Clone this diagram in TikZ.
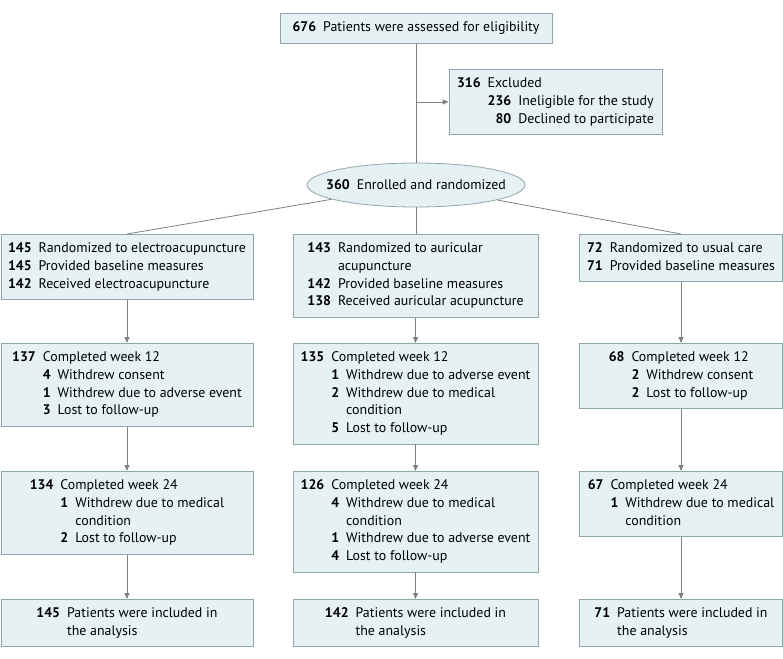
\documentclass[tikz,border=0pt]{standalone}
\usepackage{fontspec}
\setmainfont{PT Sans}
\usetikzlibrary{shapes.geometric,arrows.meta}
\definecolor{relleno}{RGB}{229,241,242}
\definecolor{borde}{RGB}{143,167,171}
\definecolor{gris}{RGB}{128,128,128}
\tikzset{
  caja/.style={draw=borde, fill=relleno, line width=0.8pt, anchor=north,
    inner xsep=0pt, inner ysep=6pt, font=\fontsize{13.9}{17.7}\selectfont},
  une/.style={draw=gris, line width=0.8pt},
  flecha/.style={une, -{Triangle[length=6pt,width=5pt]}}
}
\begin{document}
\begin{tikzpicture}[x=1pt,y=-1pt]
    \useasboundingbox (0,0) rectangle (783,658);
    % cribado
    \node[caja, minimum width=272pt] (eleg) at (416,13) {\begin{tabular}{@{}r@{\hspace{7pt}}l@{}}
        \textbf{676} & Patients were assessed for eligibility
    \end{tabular}};
    \node[caja, minimum width=213pt] (excl) at (555.5,69) {\begin{tabular}{@{}r@{\hspace{7pt}}r@{\hspace{7pt}}l@{}}
        \textbf{316} & \multicolumn{2}{@{}l@{}}{Excluded}\\
        & \textbf{236} & Ineligible for the study\\
        & \textbf{80} & Declined to participate
    \end{tabular}};
    % elipse de tamano fijo, texto sin ancho
    \node[draw=borde, fill=relleno, line width=0.8pt, ellipse, inner sep=0pt,
        minimum width=218pt, minimum height=44pt, font=\fontsize{13.9}{17.7}\selectfont]
        (elip) at (416,185) {\makebox[0pt]{\textbf{360}\hspace{7pt}Enrolled and randomized}};
    % fila 1: aleatorizados
    \node[caja, minimum width=252pt] (a1) at (127,234) {\begin{tabular}{@{}r@{\hspace{7pt}}l@{}}
        \textbf{145} & Randomized to electroacupuncture\\
        \textbf{145} & Provided baseline measures\\
        \textbf{142} & Received electroacupuncture
    \end{tabular}};
    \node[caja, minimum width=245pt] (b1) at (415.5,234) {\begin{tabular}{@{}r@{\hspace{7pt}}l@{}}
        \textbf{143} & Randomized to auricular\\
        & acupuncture\\
        \textbf{142} & Provided baseline measures\\
        \textbf{138} & Received auricular acupuncture
    \end{tabular}};
    \node[caja, minimum width=203pt] (c1) at (681,234) {\begin{tabular}{@{}r@{\hspace{7pt}}l@{}}
        \textbf{72} & Randomized to usual care\\
        \textbf{71} & Provided baseline measures
    \end{tabular}};
    % fila 2: semana 12
    \node[caja, minimum width=252pt] (a2) at (127,343) {\begin{tabular}{@{}r@{\hspace{7pt}}r@{\hspace{7pt}}l@{}}
        \textbf{137} & \multicolumn{2}{@{}l@{}}{Completed week 12}\\
        & \textbf{4} & Withdrew consent\\
        & \textbf{1} & Withdrew due to adverse event\\
        & \textbf{3} & Lost to follow-up
    \end{tabular}};
    \node[caja, minimum width=245pt] (b2) at (415.5,343) {\begin{tabular}{@{}r@{\hspace{7pt}}r@{\hspace{7pt}}l@{}}
        \textbf{135} & \multicolumn{2}{@{}l@{}}{Completed week 12}\\
        & \textbf{1} & Withdrew due to adverse event\\
        & \textbf{2} & Withdrew due to medical\\
        & & condition\\
        & \textbf{5} & Lost to follow-up
    \end{tabular}};
    \node[caja, minimum width=203pt] (c2) at (681,343) {\begin{tabular}{@{}r@{\hspace{7pt}}r@{\hspace{7pt}}l@{}}
        \textbf{68} & \multicolumn{2}{@{}l@{}}{Completed week 12}\\
        & \textbf{2} & Withdrew consent\\
        & \textbf{2} & Lost to follow-up
    \end{tabular}};
    % fila 3: semana 24
    \node[caja, minimum width=252pt] (a3) at (127,471) {\begin{tabular}{@{}r@{\hspace{7pt}}r@{\hspace{7pt}}l@{}}
        \textbf{134} & \multicolumn{2}{@{}l@{}}{Completed week 24}\\
        & \textbf{1} & Withdrew due to medical\\
        & & condition\\
        & \textbf{2} & Lost to follow-up
    \end{tabular}};
    \node[caja, minimum width=245pt] (b3) at (415.5,471) {\begin{tabular}{@{}r@{\hspace{7pt}}r@{\hspace{7pt}}l@{}}
        \textbf{126} & \multicolumn{2}{@{}l@{}}{Completed week 24}\\
        & \textbf{4} & Withdrew due to medical\\
        & & condition\\
        & \textbf{1} & Withdrew due to adverse event\\
        & \textbf{4} & Lost to follow-up
    \end{tabular}};
    \node[caja, minimum width=203pt] (c3) at (681,471) {\begin{tabular}{@{}r@{\hspace{7pt}}r@{\hspace{7pt}}l@{}}
        \textbf{67} & \multicolumn{2}{@{}l@{}}{Completed week 24}\\
        & \textbf{1} & Withdrew due to medical\\
        & & condition
    \end{tabular}};
    % fila 4: analisis
    \node[caja, minimum width=252pt] (a4) at (127,599) {\begin{tabular}{@{}r@{\hspace{7pt}}l@{}}
        \textbf{145} & Patients were included in\\
        & the analysis
    \end{tabular}};
    \node[caja, minimum width=245pt] (b4) at (415.5,599) {\begin{tabular}{@{}r@{\hspace{7pt}}l@{}}
        \textbf{142} & Patients were included in\\
        & the analysis
    \end{tabular}};
    \node[caja, minimum width=203pt] (c4) at (681,599) {\begin{tabular}{@{}r@{\hspace{7pt}}l@{}}
        \textbf{71} & Patients were included in\\
        & the analysis
    \end{tabular}};
    % conectores
    \draw[une] (eleg.south) -- (elip.north);
    \coordinate (rama) at (eleg.south |- excl.west);
    \draw[flecha] (rama) -- (excl.west);
    \draw[une] (elip) -- (a1.north);
    \draw[une] (elip.south) -- (elip.south |- b1.north);
    \draw[une] (elip) -- (c1.north);
    \foreach \col in {a,b,c} {
        \draw[flecha] (\col1.south) -- (\col2.north);
        \draw[flecha] (\col2.south) -- (\col3.north);
        \draw[flecha] (\col3.south) -- (\col4.north);
    }
\end{tikzpicture}
\end{document}
